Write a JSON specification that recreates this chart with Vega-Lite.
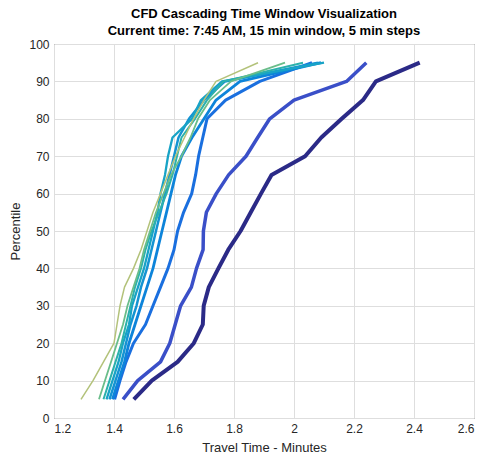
{
  "$schema": "https://vega.github.io/schema/vega-lite/v6.json",
  "width": 420,
  "height": 374,
  "autosize": "none",
  "padding": {"left": 54, "top": 44, "right": 10, "bottom": 41},
  "background": "white",
  "title": {
    "text": ["CFD Cascading Time Window Visualization", "Current time: 7:45 AM, 15 min window, 5 min steps"],
    "font": "Liberation Sans", "fontSize": 13, "fontWeight": "bold", "color": "#000000",
    "anchor": "middle", "offset": 0, "lineHeight": 17
  },
  "config": {
    "view": {"stroke": "#4d4d4d", "strokeWidth": 1},
    "axis": {
      "labelFont": "Liberation Sans", "labelFontSize": 12, "labelColor": "#262626",
      "titleFont": "Liberation Sans", "titleFontSize": 13, "titleColor": "#262626", "titleFontWeight": "normal",
      "gridColor": "#dedede", "gridWidth": 1, "domain": false, "ticks": false
    }
  },
  "datasets": {
    "curves": [
      {"w":"w1","p":5,"t":1.466},{"w":"w1","p":10,"t":1.526},{"w":"w1","p":15,"t":1.612},{"w":"w1","p":20,"t":1.666},{"w":"w1","p":25,"t":1.696},{"w":"w1","p":30,"t":1.699},{"w":"w1","p":35,"t":1.716},{"w":"w1","p":40,"t":1.748},{"w":"w1","p":45,"t":1.781},{"w":"w1","p":50,"t":1.822},{"w":"w1","p":55,"t":1.856},{"w":"w1","p":60,"t":1.89},{"w":"w1","p":65,"t":1.925},{"w":"w1","p":70,"t":2.037},{"w":"w1","p":75,"t":2.091},{"w":"w1","p":80,"t":2.159},{"w":"w1","p":85,"t":2.23},{"w":"w1","p":90,"t":2.273},{"w":"w1","p":95,"t":2.419},
      {"w":"w2","p":5,"t":1.43},{"w":"w2","p":10,"t":1.479},{"w":"w2","p":15,"t":1.555},{"w":"w2","p":20,"t":1.586},{"w":"w2","p":25,"t":1.604},{"w":"w2","p":30,"t":1.622},{"w":"w2","p":35,"t":1.658},{"w":"w2","p":40,"t":1.675},{"w":"w2","p":45,"t":1.697},{"w":"w2","p":50,"t":1.698},{"w":"w2","p":55,"t":1.708},{"w":"w2","p":60,"t":1.741},{"w":"w2","p":65,"t":1.782},{"w":"w2","p":70,"t":1.84},{"w":"w2","p":75,"t":1.879},{"w":"w2","p":80,"t":1.919},{"w":"w2","p":85,"t":2.0},{"w":"w2","p":90,"t":2.175},{"w":"w2","p":95,"t":2.241},
      {"w":"w3","p":5,"t":1.402},{"w":"w3","p":10,"t":1.42},{"w":"w3","p":15,"t":1.44},{"w":"w3","p":20,"t":1.465},{"w":"w3","p":25,"t":1.505},{"w":"w3","p":30,"t":1.53},{"w":"w3","p":35,"t":1.555},{"w":"w3","p":40,"t":1.58},{"w":"w3","p":45,"t":1.6},{"w":"w3","p":50,"t":1.612},{"w":"w3","p":55,"t":1.632},{"w":"w3","p":60,"t":1.659},{"w":"w3","p":65,"t":1.672},{"w":"w3","p":70,"t":1.682},{"w":"w3","p":75,"t":1.696},{"w":"w3","p":80,"t":1.71},{"w":"w3","p":85,"t":1.772},{"w":"w3","p":90,"t":1.886},{"w":"w3","p":95,"t":2.06},
      {"w":"w4","p":5,"t":1.395},{"w":"w4","p":10,"t":1.415},{"w":"w4","p":15,"t":1.435},{"w":"w4","p":20,"t":1.45},{"w":"w4","p":25,"t":1.47},{"w":"w4","p":30,"t":1.49},{"w":"w4","p":35,"t":1.51},{"w":"w4","p":40,"t":1.53},{"w":"w4","p":45,"t":1.545},{"w":"w4","p":50,"t":1.56},{"w":"w4","p":55,"t":1.575},{"w":"w4","p":60,"t":1.59},{"w":"w4","p":65,"t":1.605},{"w":"w4","p":70,"t":1.625},{"w":"w4","p":75,"t":1.66},{"w":"w4","p":80,"t":1.7},{"w":"w4","p":85,"t":1.74},{"w":"w4","p":90,"t":1.82},{"w":"w4","p":95,"t":2.09},
      {"w":"w5","p":5,"t":1.385},{"w":"w5","p":10,"t":1.405},{"w":"w5","p":15,"t":1.425},{"w":"w5","p":20,"t":1.44},{"w":"w5","p":25,"t":1.455},{"w":"w5","p":30,"t":1.475},{"w":"w5","p":35,"t":1.49},{"w":"w5","p":40,"t":1.51},{"w":"w5","p":45,"t":1.525},{"w":"w5","p":50,"t":1.54},{"w":"w5","p":55,"t":1.555},{"w":"w5","p":60,"t":1.57},{"w":"w5","p":65,"t":1.585},{"w":"w5","p":70,"t":1.6},{"w":"w5","p":75,"t":1.615},{"w":"w5","p":80,"t":1.65},{"w":"w5","p":85,"t":1.7},{"w":"w5","p":90,"t":1.77},{"w":"w5","p":95,"t":2.08},
      {"w":"w6","p":5,"t":1.375},{"w":"w6","p":10,"t":1.395},{"w":"w6","p":15,"t":1.415},{"w":"w6","p":20,"t":1.43},{"w":"w6","p":25,"t":1.45},{"w":"w6","p":30,"t":1.46},{"w":"w6","p":35,"t":1.48},{"w":"w6","p":40,"t":1.5},{"w":"w6","p":45,"t":1.515},{"w":"w6","p":50,"t":1.53},{"w":"w6","p":55,"t":1.545},{"w":"w6","p":60,"t":1.555},{"w":"w6","p":65,"t":1.57},{"w":"w6","p":70,"t":1.58},{"w":"w6","p":75,"t":1.595},{"w":"w6","p":80,"t":1.66},{"w":"w6","p":85,"t":1.69},{"w":"w6","p":90,"t":1.76},{"w":"w6","p":95,"t":2.1},
      {"w":"w7","p":5,"t":1.365},{"w":"w7","p":10,"t":1.385},{"w":"w7","p":15,"t":1.405},{"w":"w7","p":20,"t":1.425},{"w":"w7","p":25,"t":1.44},{"w":"w7","p":30,"t":1.455},{"w":"w7","p":35,"t":1.47},{"w":"w7","p":40,"t":1.49},{"w":"w7","p":45,"t":1.505},{"w":"w7","p":50,"t":1.525},{"w":"w7","p":55,"t":1.55},{"w":"w7","p":60,"t":1.575},{"w":"w7","p":65,"t":1.595},{"w":"w7","p":70,"t":1.61},{"w":"w7","p":75,"t":1.625},{"w":"w7","p":80,"t":1.67},{"w":"w7","p":85,"t":1.71},{"w":"w7","p":90,"t":1.765},{"w":"w7","p":95,"t":2.03},
      {"w":"w8","p":5,"t":1.35},{"w":"w8","p":10,"t":1.37},{"w":"w8","p":15,"t":1.39},{"w":"w8","p":20,"t":1.41},{"w":"w8","p":25,"t":1.43},{"w":"w8","p":30,"t":1.445},{"w":"w8","p":35,"t":1.465},{"w":"w8","p":40,"t":1.485},{"w":"w8","p":45,"t":1.5},{"w":"w8","p":50,"t":1.52},{"w":"w8","p":55,"t":1.54},{"w":"w8","p":60,"t":1.565},{"w":"w8","p":65,"t":1.59},{"w":"w8","p":70,"t":1.625},{"w":"w8","p":75,"t":1.655},{"w":"w8","p":80,"t":1.68},{"w":"w8","p":85,"t":1.72},{"w":"w8","p":90,"t":1.79},{"w":"w8","p":95,"t":1.97},
      {"w":"w9","p":5,"t":1.29},{"w":"w9","p":10,"t":1.33},{"w":"w9","p":15,"t":1.365},{"w":"w9","p":20,"t":1.4},{"w":"w9","p":25,"t":1.41},{"w":"w9","p":30,"t":1.42},{"w":"w9","p":35,"t":1.435},{"w":"w9","p":40,"t":1.465},{"w":"w9","p":45,"t":1.49},{"w":"w9","p":50,"t":1.51},{"w":"w9","p":55,"t":1.53},{"w":"w9","p":60,"t":1.555},{"w":"w9","p":65,"t":1.58},{"w":"w9","p":70,"t":1.605},{"w":"w9","p":75,"t":1.635},{"w":"w9","p":80,"t":1.665},{"w":"w9","p":85,"t":1.7},{"w":"w9","p":90,"t":1.74},{"w":"w9","p":95,"t":1.88}
    ]
  },
  "data": {"name": "curves"},
  "mark": {"type": "line", "strokeJoin": "round", "strokeCap": "butt", "clip": true},
  "encoding": {
    "x": {
      "field": "t", "type": "quantitative",
      "scale": {"domain": [1.2, 2.6], "nice": false, "zero": false},
      "axis": {"values": [1.2, 1.4, 1.6, 1.8, 2.0, 2.2, 2.4, 2.6], "format": ".1~f", "title": "Travel Time - Minutes", "labelPadding": 5, "titlePadding": 7}
    },
    "y": {
      "field": "p", "type": "quantitative",
      "scale": {"domain": [0, 100], "nice": false},
      "axis": {"values": [0, 10, 20, 30, 40, 50, 60, 70, 80, 90, 100], "title": "Percentile", "labelPadding": 5, "titlePadding": 6}
    },
    "color": {
      "field": "w", "type": "nominal",
      "scale": {
        "domain": ["w1", "w2", "w3", "w4", "w5", "w6", "w7", "w8", "w9"],
        "range": ["#2b2a87", "#3a4fc8", "#1a6fdf", "#0d84da", "#1494d2", "#18a3c6", "#2cb1ac", "#6abd8a", "#b3c27a"]
      },
      "legend": null
    },
    "size": {
      "field": "w", "type": "nominal",
      "scale": {
        "type": "ordinal",
        "domain": ["w1", "w2", "w3", "w4", "w5", "w6", "w7", "w8", "w9"],
        "range": [4, 3.5, 3, 2.8, 2.5, 2.3, 2, 1.8, 1.5]
      },
      "legend": null
    },
    "order": {"field": "p", "type": "quantitative"}
  }
}
